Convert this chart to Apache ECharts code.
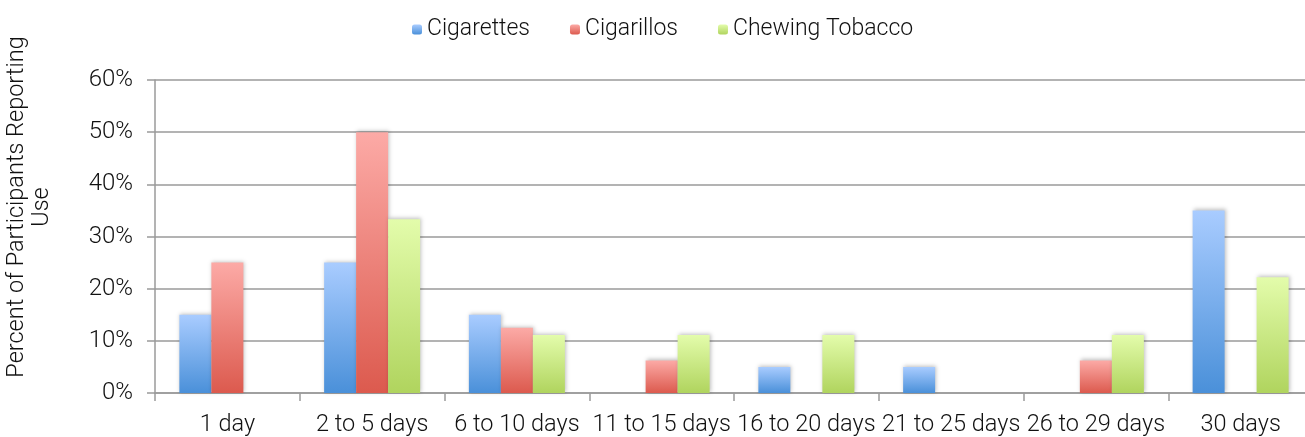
<!DOCTYPE html>
<html>
<head>
<meta charset="utf-8">
<script src="https://cdn.jsdelivr.net/npm/echarts@6/dist/echarts.min.js"></script>
<style>
  html, body { margin: 0; padding: 0; background: #fff; }
  #chart { width: 1305px; height: 437px; }
</style>
</head>
<body>
<div id="chart"></div>
<script>
// Days of use in the past 30 days
const categories = ['1 day', '2 to 5 days', '6 to 10 days', '11 to 15 days', '16 to 20 days', '21 to 25 days', '26 to 29 days', '30 days'];
const cigarettes = [15, 25, 15, 0, 5, 5, 0, 35];
const cigarillos = [25, 50, 12.5, 6.25, 0, 0, 6.25, 0];
const chewing = [0, 33.3, 11.1, 11.1, 11.1, 0, 11.1, 22.2];
const yTicks = [0, 10, 20, 30, 40, 50, 60];
const yTitle = ['Percent of Participants Reporting', 'Use'];

const FONT = 'Roboto';
const TEXT = '#111';

function grad(top, bottom) {
  return new echarts.graphic.LinearGradient(0, 0, 0, 1, [
    { offset: 0, color: top },
    { offset: 1, color: bottom }
  ]);
}

const palette = {
  Cigarettes: ['#a9ccff', '#4a90d9'],
  Cigarillos: ['#fcaaa6', '#dc5a4e'],
  'Chewing Tobacco': ['#e3fcab', '#b0d45e']
};

function series(name, data) {
  return {
    name: name,
    type: 'bar',
    data: data,
    barWidth: 32,
    barGap: '0%',
    itemStyle: {
      color: grad(palette[name][0], palette[name][1]),
      shadowColor: 'rgba(0,0,0,0.25)',
      shadowBlur: 4,
      shadowOffsetX: 1,
      shadowOffsetY: -1
    },
    emphasis: { disabled: true }
  };
}

const chart = echarts.init(document.getElementById('chart'), null, { renderer: 'canvas' });
chart.setOption({
  animation: false,
  textStyle: { fontFamily: FONT },
  legend: {
    top: 13,
    left: 407,
    itemWidth: 10,
    itemHeight: 10,
    itemGap: 40,
    textStyle: { fontFamily: FONT, fontWeight: 300, fontSize: 23, color: TEXT },
    data: Object.keys(palette).map(function (n) {
      return { name: n, itemStyle: { color: grad(palette[n][0], palette[n][1]) } };
    })
  },
  graphic: [{
    type: 'text',
    x: 30,
    y: 207,
    rotation: Math.PI / 2,
    style: {
      text: yTitle.join('\n'),
      fontFamily: FONT,
      fontWeight: 300,
      fontSize: 23.5,
      lineHeight: 25,
      fill: TEXT,
      align: 'center',
      verticalAlign: 'middle'
    }
  }],
  grid: { left: 155, right: -8, top: 80, bottom: 44, containLabel: false, outerBoundsMode: 'none' },
  xAxis: {
    type: 'category',
    data: categories,
    axisLine: { lineStyle: { color: '#9a9a9a', width: 1.5 } },
    axisTick: { show: true, length: 8, lineStyle: { color: '#9a9a9a', width: 1.5 } },
    axisLabel: { fontFamily: FONT, fontWeight: 300, fontSize: 23.5, color: TEXT, margin: 20, interval: 0 }
  },
  yAxis: {
    type: 'value',
    min: 0,
    max: 60,
    interval: 10,
    axisLine: { show: true, lineStyle: { color: '#9a9a9a', width: 1.5 } },
    axisTick: { show: true, length: 8, lineStyle: { color: '#9a9a9a', width: 1.5 } },
    splitLine: { show: true, lineStyle: { color: '#9a9a9a', width: 1.5 } },
    axisLabel: {
      fontFamily: FONT, fontWeight: 300, fontSize: 24, color: TEXT, margin: 22,
      padding: [6, 0, 0, 0],
      formatter: function (v) { return yTicks.indexOf(v) >= 0 ? v + '%' : ''; }
    }
  },
  series: Object.keys(palette).map(function (n, i) {
    return series(n, [cigarettes, cigarillos, chewing][i]);
  })
});
</script>
</body>
</html>
